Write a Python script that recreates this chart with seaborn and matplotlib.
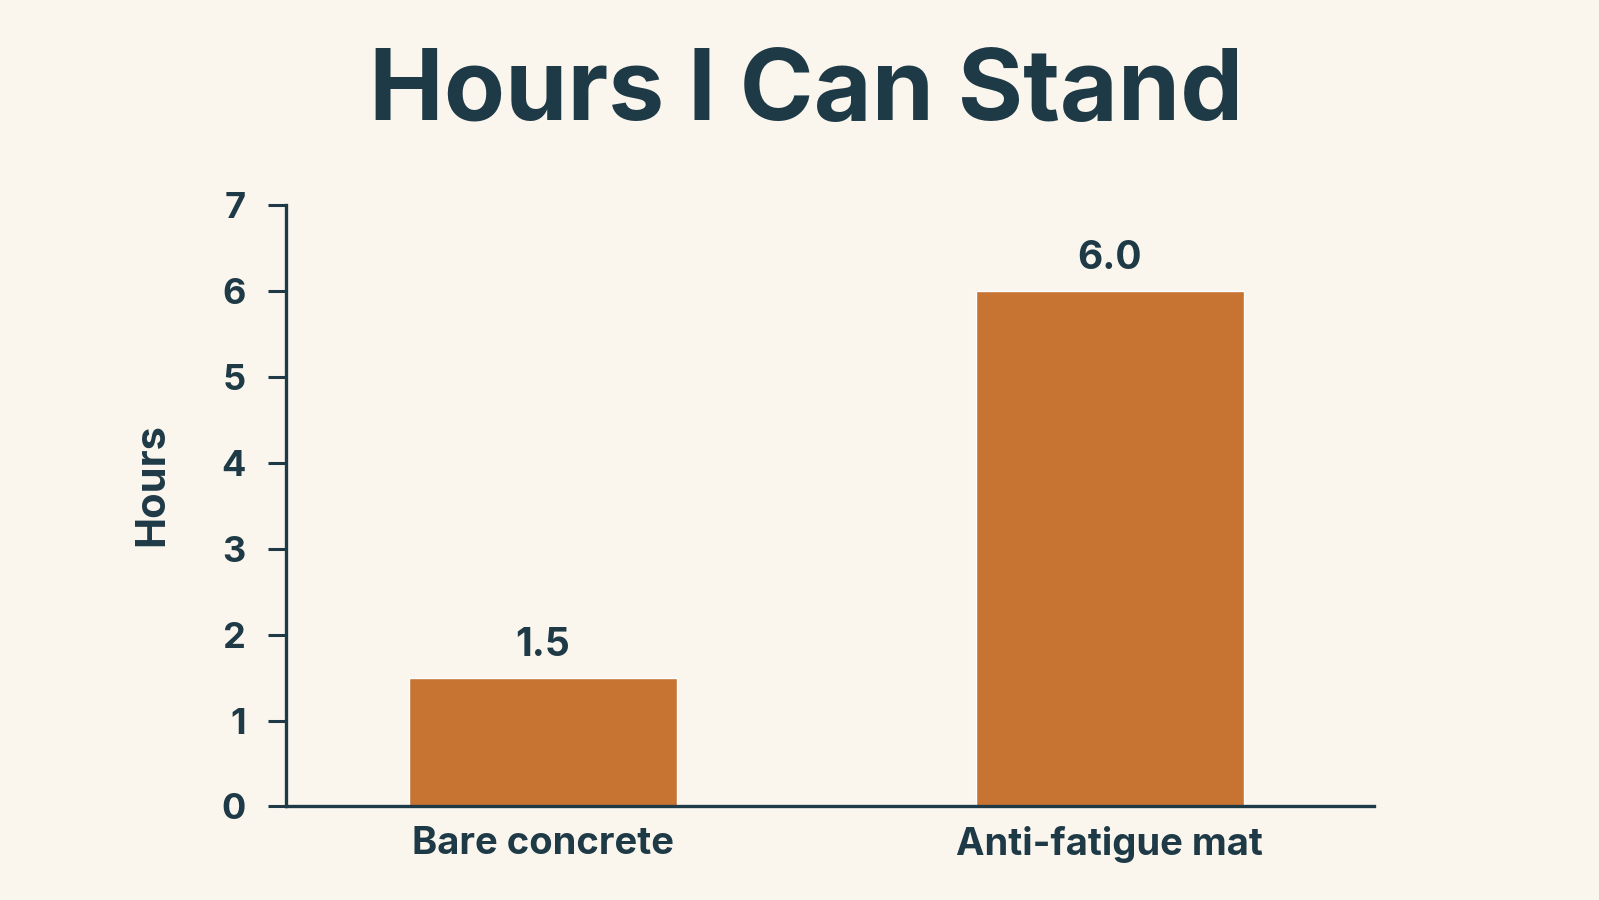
import matplotlib
matplotlib.use("Agg")
import matplotlib.pyplot as plt
import seaborn as sns
import pandas as pd

# data
surfaces = ["Bare concrete", "Anti-fatigue mat"]
hours = [1.5, 6.0]

bg = "#FAF6EE"
ink = "#1F3A47"
bar_color = "#C77332"

sns.set_theme(style="white")
plt.rcParams['font.family'] = ['Inter', 'DejaVu Sans']
plt.rcParams['font.weight'] = 'bold'

df = pd.DataFrame({"surface": surfaces, "hours": hours})

fig = plt.figure(figsize=(15.99, 9), dpi=100, facecolor=bg)
ax = fig.add_axes([0.179, 0.104, 0.680, 0.668])
ax.set_facecolor(bg)

sns.barplot(data=df, x="surface", y="hours", color=bar_color, saturation=1,
            width=0.473, ax=ax)

ax.set_xlim(-0.453, 1.465)
ax.set_ylim(0, 7)
ax.set_yticks(range(0, 8))

for c in ax.containers:
    ax.bar_label(c, fmt="%.1f", padding=10, fontsize=28, fontweight="bold", color=ink)

sns.despine(ax=ax)
for s in ["left", "bottom"]:
    ax.spines[s].set_color(ink)
    ax.spines[s].set_linewidth(2.4)

ax.tick_params(axis="y", length=13, width=2.2, color=ink, pad=16,
               labelsize=26, labelcolor=ink, left=True)
ax.tick_params(axis="x", length=0, pad=14, labelsize=27.5, labelcolor=ink)
for lbl in ax.get_xticklabels() + ax.get_yticklabels():
    lbl.set_fontweight("bold")

ax.set_xlabel("")
ax.set_ylabel("Hours", fontsize=30, fontweight="bold", color=ink)
ax.yaxis.set_label_coords(-0.106, 0.536)

fig.text(0.504, 0.895, "Hours I Can Stand", ha="center", va="center",
         fontsize=72, fontweight="bold", color=ink)

fig.savefig("out.png", dpi=100, facecolor=bg)
